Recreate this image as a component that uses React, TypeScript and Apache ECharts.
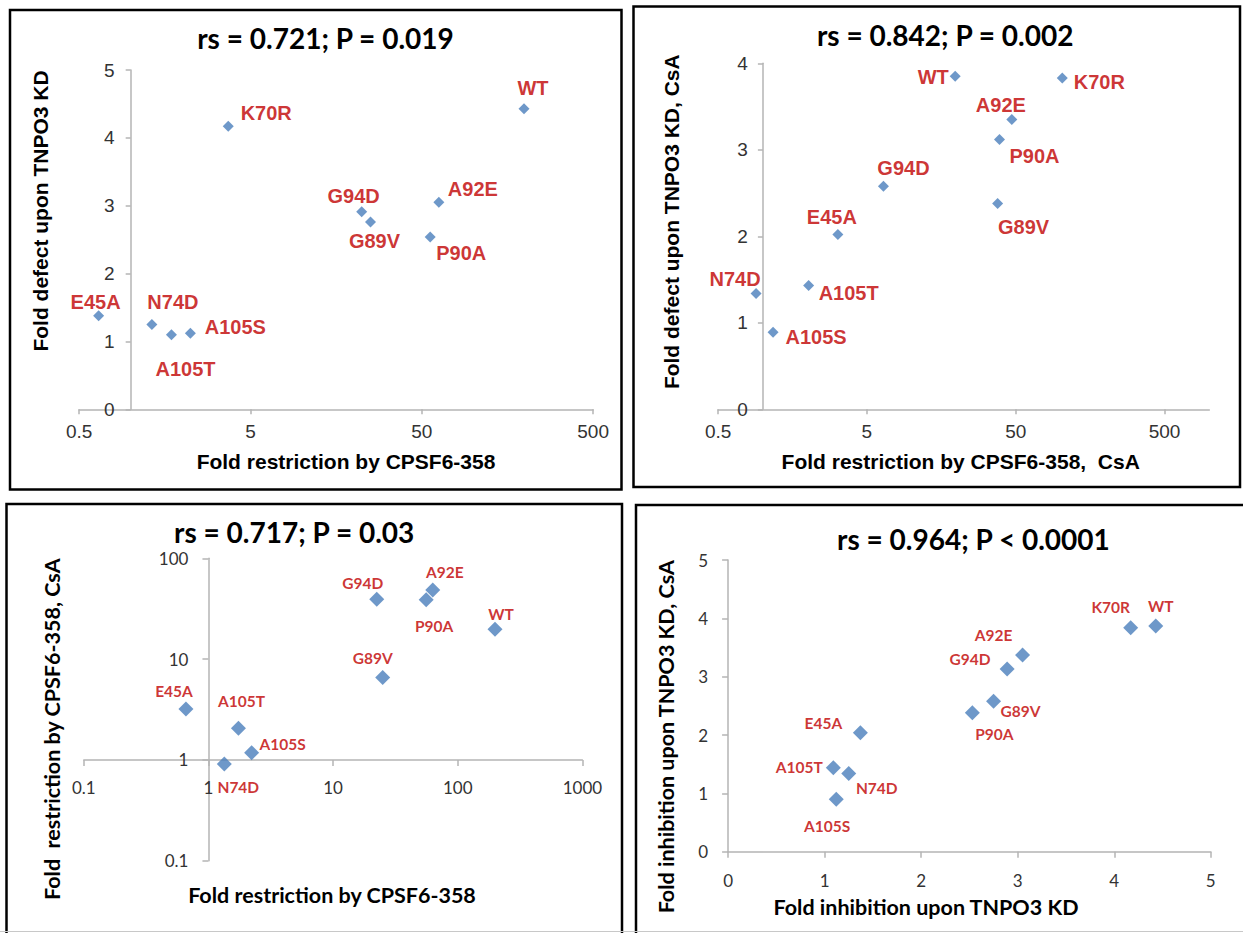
import React, { useEffect, useRef } from "react";
import * as echarts from "echarts";

// ---------- Panel A: TNPO3 KD defect vs CPSF6-358 restriction ----------
const aNames = ["WT", "K70R", "A92E", "G94D", "G89V", "P90A", "E45A", "N74D", "A105T", "A105S"];
const aCpsf = [197.6, 3.71, 62.9, 22.3, 25.1, 56.0, 0.65, 1.33, 1.73, 2.23];
const aTnpo = [4.43, 4.17, 3.05, 2.91, 2.76, 2.54, 1.38, 1.25, 1.1, 1.12];
const aXTicks = [0.5, 5, 50, 500];
const aYTicks = [0, 1, 2, 3, 4, 5];

// ---------- Panel B: TNPO3 KD (CsA) vs CPSF6-358 (CsA) ----------
const bNames = ["WT", "K70R", "A92E", "P90A", "G89V", "G94D", "E45A", "N74D", "A105T", "A105S"];
const bCpsfCsA = [19.6, 102.8, 47.1, 38.9, 37.8, 6.46, 3.19, 0.9, 2.03, 1.17];
const bTnpoCsA = [3.85, 3.83, 3.35, 3.12, 2.38, 2.58, 2.02, 1.34, 1.43, 0.89];
const bXTicks = [0.5, 5, 50, 500];
const bYTicks = [0, 1, 2, 3, 4];

// ---------- Panel C: CPSF6-358 (CsA) vs CPSF6-358 ----------
const cNames = ["WT", "A92E", "P90A", "G94D", "G89V", "E45A", "A105T", "A105S", "N74D"];
const cCpsf = [199, 63, 55.8, 22.4, 25, 0.66, 1.74, 2.22, 1.34];
const cCpsfCsA = [19.8, 48.6, 38.7, 39.3, 6.55, 3.2, 2.06, 1.18, 0.91];
const cXTicks = [0.1, 1, 10, 100, 1000];
const cYTicks = [0.1, 1, 10, 100];

// ---------- Panel D: TNPO3 KD (CsA) vs TNPO3 KD ----------
const dNames = ["WT", "K70R", "A92E", "G94D", "G89V", "P90A", "E45A", "A105T", "N74D", "A105S"];
const dTnpo = [4.43, 4.17, 3.05, 2.89, 2.75, 2.53, 1.37, 1.09, 1.25, 1.12];
const dTnpoCsA = [3.87, 3.84, 3.37, 3.13, 2.58, 2.38, 2.04, 1.44, 1.34, 0.9];
const dXTicks = [0, 1, 2, 3, 4, 5];
const dYTicks = [0, 1, 2, 3, 4, 5];

const titles = ["rs = 0.721; P = 0.019", "rs = 0.842; P = 0.002", "rs = 0.717; P = 0.03", "rs = 0.964; P < 0.0001"];

// label offsets (layout only)
const aOffsets = [[9, -21], [38, -13], [34, -13], [-8, -16], [4, 19], [31, 16], [-3, -14], [21, -22], [14, 34], [45, -6]];
const bOffsets = [[-22, 1], [37, 4], [-11, -15], [35, 17], [26, 24], [20, -18], [-6, -18], [-21, -14], [40, 7], [43, 5]];
const cOffsets = [[6, -15], [12, -18], [8, 26], [-14, -16], [-10, -20], [-12, -18], [3, -27], [31, -9], [14, 23]];
const dOffsets = [[5, -20], [-20, -21], [-29, -20], [-37, -10], [27, 10], [22, 21], [-37, -10], [-34, -1], [28, 14], [-9, 27]];

const ARIAL = "'Liberation Sans', Arial, Helvetica, sans-serif";
const CALIBRI = "Lato, 'Open Sans', sans-serif";
const AXIS_COLOR = "#b4b4b4";
const TICK_TEXT = "#333333";
const MARK = "#4a7ebb";
const RED = "#c00000";

const grids = [
  { left: 79.1, top: 70, width: 514, height: 339.3 },
  { left: 718.1, top: 63.3, width: 491.2, height: 346 },
  { left: 83.8, top: 558.3, width: 498.6, height: 302.4 },
  { left: 728.1, top: 560, width: 482.7, height: 291.7 },
];

const fmt = (v: number) => String(Number(Number(v).toPrecision(6)));

function logAxis(gi: number, min: number, max: number, ticks: number[], font: string, size: number, margin: number, tickLen: number, offset: number, position: string) {
  return {
    type: "log",
    logBase: 10,
    gridIndex: gi,
    min,
    max,
    position,
    offset,
    axisLine: { show: true, onZero: false, lineStyle: { color: AXIS_COLOR, width: 1.5 } },
    axisTick: { show: true, customValues: ticks, length: tickLen, lineStyle: { color: AXIS_COLOR, width: 1.5 } },
    axisLabel: { customValues: ticks, formatter: fmt, color: TICK_TEXT, fontFamily: font, fontSize: size, margin },
    splitLine: { show: false },
    minorTick: { show: false },
  };
}

function valAxis(gi: number, min: number, max: number, font: string, size: number, margin: number, tickLen: number, offset: number, position: string) {
  return {
    type: "value",
    gridIndex: gi,
    min,
    max,
    interval: 1,
    position,
    offset,
    axisLine: { show: true, onZero: false, lineStyle: { color: AXIS_COLOR, width: 1.5 } },
    axisTick: { show: true, length: tickLen, lineStyle: { color: AXIS_COLOR, width: 1.5 } },
    axisLabel: { formatter: fmt, color: TICK_TEXT, fontFamily: font, fontSize: size, margin },
    splitLine: { show: false },
  };
}

function series(i: number, names: string[], xs: number[], ys: number[], offsets: number[][], size: number, font: string, fontSize: number) {
  return {
    type: "scatter",
    xAxisIndex: i,
    yAxisIndex: i,
    symbol: "diamond",
    symbolSize: size,
    itemStyle: { color: MARK },
    label: {
      show: true,
      position: "inside",
      formatter: "{b}",
      color: RED,
      fontWeight: "bold",
      fontFamily: font,
      fontSize,
      align: "center",
      verticalAlign: "middle",
    },
    data: names.map((n, k) => ({ name: n, value: [xs[k], ys[k]], label: { offset: offsets[k] } })),
  };
}

function txt(x: number, y: number, text: string, font: string, size: number, rotate = false) {
  return {
    type: "text",
    x,
    y,
    rotation: rotate ? Math.PI / 2 : 0,
    style: {
      text,
      fill: "#000",
      fontFamily: font,
      fontSize: size,
      fontWeight: "bold",
      align: "center",
      verticalAlign: "middle",
      textAlign: "center",
      textVerticalAlign: "middle",
    },
  };
}

function box(x1: number, y1: number, x2: number, y2: number) {
  return {
    type: "rect",
    shape: { x: x1, y: y1, width: x2 - x1, height: y2 - y1 },
    style: { fill: "none", stroke: "#000", lineWidth: 2.5 },
    silent: true,
  };
}

export default function App() {
  const ref = useRef<HTMLDivElement>(null);
  useEffect(() => {
    document.body.style.margin = "0";
    if (!ref.current) return;
    const chart = echarts.init(ref.current, null, { renderer: "svg" });

    // crossing positions (y axis at x = 1, x axis at y = 1)
    const aYOff = -grids[0].width * (Math.log10(1 / 0.5) / Math.log10(500 / 0.5));
    const bYOff = -grids[1].width * (Math.log10(1 / 0.5) / Math.log10(1000 / 0.5));
    const cYOff = -grids[2].width * (Math.log10(1 / 0.1) / Math.log10(1000 / 0.1));
    const cXOff = -grids[2].height * (Math.log10(1 / 0.1) / Math.log10(100 / 0.1));

    const option: any = {
      animation: false,
      backgroundColor: "#ffffff",
      grid: grids.map((g) => ({ ...g })),
      xAxis: [
        logAxis(0, 0.5, 500, aXTicks, ARIAL, 19, 13, 5, 0, "bottom"),
        logAxis(1, 0.5, 1000, bXTicks, ARIAL, 19, 13, 5, 0, "bottom"),
        logAxis(2, 0.1, 1000, cXTicks, CALIBRI, 17, 19, 6, cXOff, "bottom"),
        valAxis(3, 0, 5, CALIBRI, 17, 20, 6, 0, "bottom"),
      ],
      yAxis: [
        valAxis(0, aYTicks[0], aYTicks[aYTicks.length - 1], ARIAL, 19, 16, 5, aYOff, "left"),
        valAxis(1, bYTicks[0], bYTicks[bYTicks.length - 1], ARIAL, 19, 15, 5, bYOff, "left"),
        logAxis(2, 0.1, 100, cYTicks, CALIBRI, 17, 20, 6, cYOff, "left"),
        valAxis(3, dYTicks[0], dYTicks[dYTicks.length - 1], CALIBRI, 17, 20, 6, 0, "left"),
      ],
      series: [
        series(0, aNames, aCpsf, aTnpo, aOffsets, 11, ARIAL, 20),
        series(1, bNames, bCpsfCsA, bTnpoCsA, bOffsets, 11, ARIAL, 20),
        series(2, cNames, cCpsf, cCpsfCsA, cOffsets, 15, CALIBRI, 15.5),
        series(3, dNames, dTnpo, dTnpoCsA, dOffsets, 15, CALIBRI, 15.5),
      ],
      graphic: [
        box(10, 10, 621.5, 489.5),
        box(633.5, 6.5, 1240, 487),
        box(6.5, 504, 622, 945),
        box(636, 505, 1250, 945),
        {
          type: "line",
          shape: { x1: 0, y1: 931.5, x2: 1243, y2: 931.5 },
          style: { stroke: "#c8c8c8", lineWidth: 1 },
          silent: true,
        },
        txt(325.5, 38.3, titles[0], CALIBRI, 28),
        txt(945.2, 35, titles[1], CALIBRI, 28),
        txt(294.2, 531.7, titles[2], CALIBRI, 28),
        txt(973.4, 539, titles[3], CALIBRI, 28),
        txt(346, 461.7, "Fold restriction by CPSF6-358", ARIAL, 21),
        txt(40.5, 211, "Fold defect upon TNPO3 KD", ARIAL, 21, true),
        txt(960.7, 461.7, "Fold restriction by CPSF6-358,  CsA", ARIAL, 21),
        txt(671.3, 221.7, "Fold defect upon TNPO3 KD, CsA", ARIAL, 21, true),
        txt(332, 895, "Fold restriction by CPSF6-358", CALIBRI, 21.5),
        txt(52, 729.2, "Fold  restriction by CPSF6-358, CsA", CALIBRI, 21.5, true),
        txt(926, 906.7, "Fold inhibition upon TNPO3 KD", CALIBRI, 21.5),
        txt(665.6, 736.7, "Fold inhibition upon TNPO3 KD, CsA", CALIBRI, 21.5, true),
      ],
    };
    chart.setOption(option);
    return () => chart.dispose();
  }, []);
  return <div ref={ref} style={{ width: 1243, height: 933 }} />;
}
